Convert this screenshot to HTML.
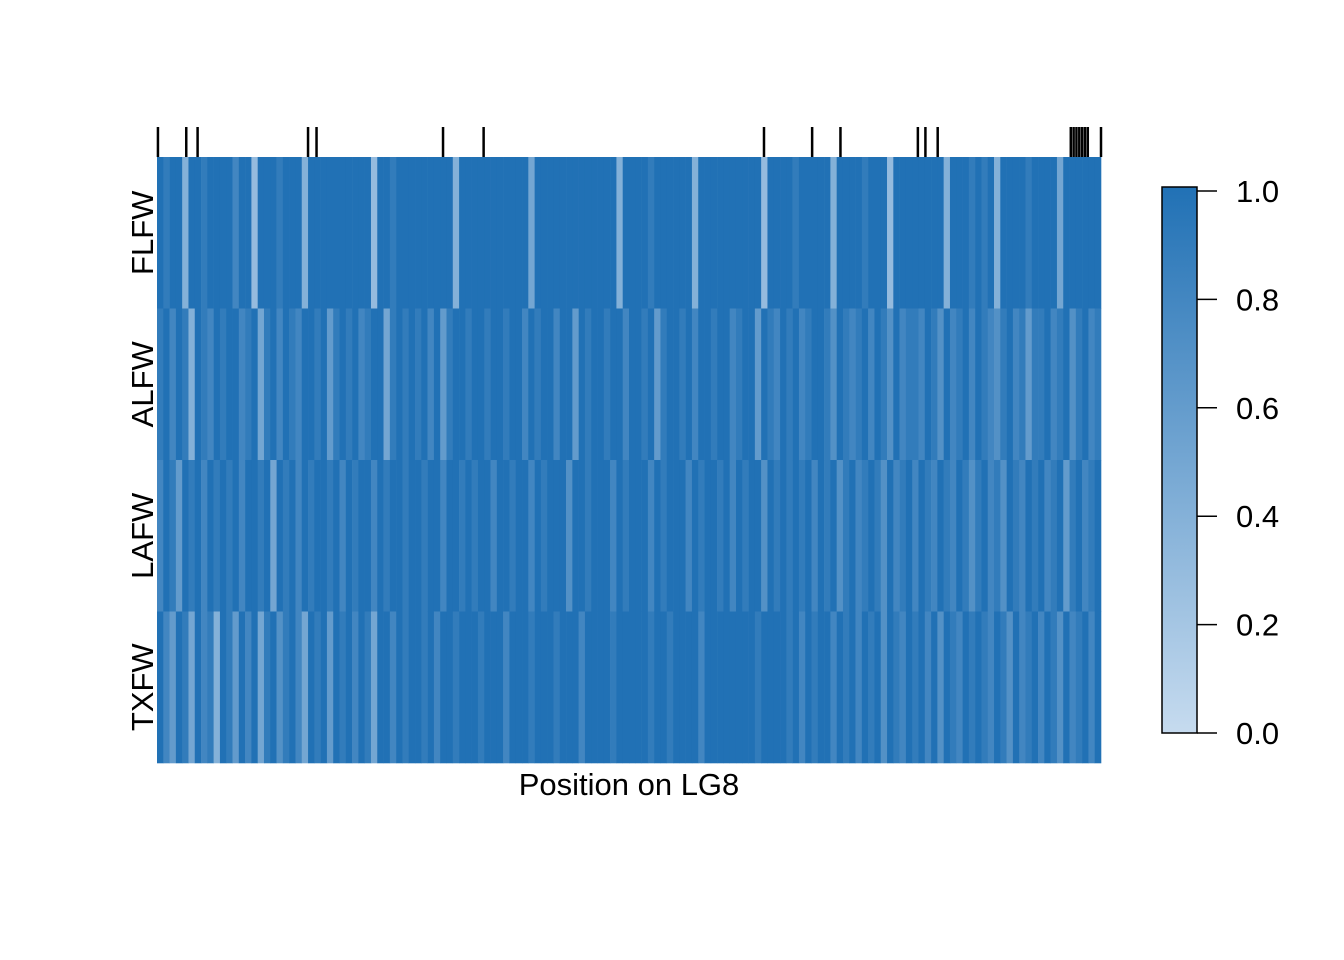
<!DOCTYPE html>
<html><head><meta charset="utf-8"><style>
html,body{margin:0;padding:0;background:#fff;}
svg{display:block;font-family:"Liberation Sans",Arial,sans-serif;}
</style></head><body>
<svg id="chart" width="1344" height="960" viewBox="0 0 1344 960" xmlns="http://www.w3.org/2000/svg">
<g id="cells"></g>
<g id="ticks"></g>
<text x="629" y="795" font-size="31" text-anchor="middle">Position on LG8</text>
<g id="rowlabels"></g>
<defs><linearGradient id="cbg" x1="0" y1="1" x2="0" y2="0"><stop offset="0" stop-color="#c6dbef"/><stop offset="1" stop-color="#2171b5"/></linearGradient></defs>
<rect x="1162" y="187" width="35" height="546" fill="url(#cbg)" stroke="#000" stroke-width="1.5"/>
<g id="cbticks"></g>
</svg>
<script>
const rowNames=["FLFW","ALFW","LAFW","TXFW"];
const valuesFLFW=[10,9,10,10,4,10,10,9,10,10,10,10,8,10,10,3,10,10,10,9,10,10,10,4,10,10,10,10,10,10,10,10,10,10,3,10,10,9,10,10,10,10,10,10,10,10,10,4,10,10,10,10,10,10,10,10,10,10,10,5,10,10,10,10,10,10,10,10,10,10,10,10,10,4,10,10,10,10,9,10,10,10,10,10,10,4,10,10,10,10,10,10,10,10,10,10,3,10,10,10,10,9,10,10,10,10,10,4,10,10,10,10,9,10,10,10,3,10,10,10,10,10,10,10,10,4,10,10,10,9,10,9,10,4,10,10,10,10,9,10,10,10,10,5,10,10,10,10,10,10];
const valuesALFW=[9,10,8,10,9,4,10,9,8,10,9,10,10,8,9,10,5,9,10,8,10,9,8,10,10,9,10,6,9,10,9,10,8,9,10,10,5,9,10,9,10,9,10,8,10,6,9,10,10,9,10,10,9,10,10,9,10,10,8,10,9,10,10,8,10,10,6,10,9,10,10,9,10,10,8,10,10,9,10,6,9,10,10,9,10,8,10,10,9,10,10,8,9,10,10,6,10,9,8,10,9,10,8,9,10,10,9,7,10,9,8,9,10,8,10,9,7,10,8,9,9,8,10,9,7,10,8,9,10,8,10,9,8,7,9,10,8,9,6,9,9,10,8,9,10,7,9,10,8,9];
const valuesLAFW=[8,10,9,6,10,9,10,8,10,9,10,9,10,8,10,10,9,10,5,10,9,10,8,10,9,10,10,9,10,8,10,9,10,10,8,10,9,10,10,9,10,10,9,10,10,8,10,10,9,10,9,10,10,8,10,10,9,10,10,8,10,9,10,10,10,7,10,10,9,10,10,10,8,10,9,10,10,10,8,10,9,10,10,10,8,10,9,10,10,9,10,8,10,9,10,10,7,10,9,10,9,10,9,10,8,10,9,10,7,9,10,8,9,10,9,7,10,8,9,10,8,10,9,8,10,9,8,10,9,7,9,10,8,9,7,10,9,8,10,9,10,8,9,10,6,9,10,8,9,10];
const valuesTXFW=[10,8,6,10,9,5,10,8,9,4,10,9,6,10,8,10,5,9,10,7,9,10,8,5,10,9,10,6,10,9,10,8,10,9,5,10,10,8,10,9,10,10,9,10,8,10,10,9,10,10,10,9,10,10,10,8,10,10,10,9,10,10,10,9,10,10,10,8,10,10,10,10,9,10,10,10,10,10,9,10,10,9,10,10,10,10,8,10,10,10,10,10,10,10,10,9,10,10,10,10,9,10,8,10,9,10,10,8,10,9,10,8,10,9,10,7,10,9,8,10,9,10,8,10,7,10,9,8,10,9,10,9,8,10,9,7,10,8,9,10,8,10,9,7,10,8,9,10,8,10];
const markerPositions=[0.1,3.1,4.3,16,16.9,30.3,34.6,64.3,69.4,72.4,80.6,81.4,82.7,96.8,97.1,97.4,97.7,98,98.3,98.6,100];
const cbTicks=[0,0.2,0.4,0.6,0.8,1.0];
const cbLabels=["0.0","0.2","0.4","0.6","0.8","1.0"];

const NS="http://www.w3.org/2000/svg";
const X0=157,X1=1101,Y0=157,Y1=763;
const rowsData=[valuesFLFW,valuesALFW,valuesLAFW,valuesTXFW];
const rowH=(Y1-Y0)/rowsData.length;
function xCol(i,n){return X0+i*(X1-X0)/n;}
function xPos(p){return X0+p/100*(X1-X0);}
function cbY(v){return 733-v*542;}
function color(v){const a=[198,219,239],b=[33,113,181];return "rgb("+a.map((c,k)=>Math.round(c+(b[k]-c)*v)).join(",")+")";}
const cells=document.getElementById('cells');
rowsData.forEach((arr,r)=>{
  const n=arr.length;
  arr.forEach((v,i)=>{
    const el=document.createElementNS(NS,'rect');
    
    
    const x=xCol(i,n),w=xCol(i+1,n)-x;
    el.setAttribute('x',x);el.setAttribute('y',Y0+r*rowH);
    el.setAttribute('width',w+0.3);el.setAttribute('height',rowH+0.3);
    el.setAttribute('fill',color(v/10));
    cells.appendChild(el);
  });
});
const rl=document.getElementById('rowlabels');
rowNames.forEach((nm,r)=>{
  const t=document.createElementNS(NS,'text');
  
  
  const cy=Y0+(r+0.5)*rowH;
  t.setAttribute('transform','translate(153,'+cy+') rotate(-90)');
  t.setAttribute('text-anchor','middle');t.setAttribute('font-size','31');
  t.textContent=nm;rl.appendChild(t);
});
const tk=document.getElementById('ticks');
markerPositions.forEach(p=>{
  const l=document.createElementNS(NS,'line');
  
  
  const x=xPos(p);
  l.setAttribute('x1',x);l.setAttribute('x2',x);l.setAttribute('y1',127);l.setAttribute('y2',157);
  l.setAttribute('stroke','#000');l.setAttribute('stroke-width','2.5');
  tk.appendChild(l);
});
const cb=document.getElementById('cbticks');
cbTicks.forEach((v,i)=>{
  const y=cbY(v);
  const l=document.createElementNS(NS,'line');
  
  
  l.setAttribute('x1',1197);l.setAttribute('x2',1217);l.setAttribute('y1',y);l.setAttribute('y2',y);
  l.setAttribute('stroke','#000');l.setAttribute('stroke-width','1.5');
  cb.appendChild(l);
  const t=document.createElementNS(NS,'text');
  
  
  t.setAttribute('x',1236);t.setAttribute('y',y+11);t.setAttribute('font-size','31');
  t.textContent=cbLabels[i];cb.appendChild(t);
});
</script>
</body></html>
